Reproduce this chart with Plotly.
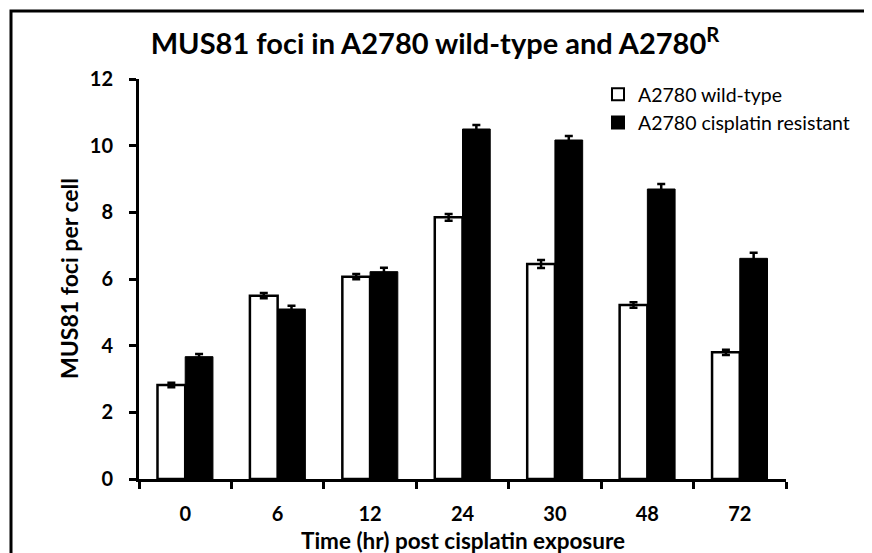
import plotly.graph_objects as go

times = ["0", "6", "12", "24", "30", "48", "72"]
wild_type = [2.82, 5.50, 6.07, 7.85, 6.45, 5.22, 3.80]
wild_type_err = [0.07, 0.08, 0.08, 0.10, 0.12, 0.08, 0.08]
resistant = [3.67, 5.10, 6.22, 10.50, 10.17, 8.70, 6.62]
resistant_err = [0.08, 0.10, 0.12, 0.12, 0.12, 0.15, 0.17]
y_ticks = [0, 2, 4, 6, 8, 10, 12]

FONT = "Lato"
# page body has an 8px margin, so the figure is 8px smaller than the window
W, H = 864, 545
L, R, T, B = 131, 86, 71, 74
pw, ph = W - L - R, H - T - B

def px_x(x):
    return (x - L) / pw

def px_y(y):
    return (H - B - y) / ph

fig = go.Figure()
fig.add_trace(go.Bar(
    x=times, y=wild_type, name="A2780 wild-type",
    marker=dict(color="white", line=dict(color="black", width=2.5)),
    error_y=dict(type="data", array=wild_type_err, color="black", thickness=2.5, width=4),
))
fig.add_trace(go.Bar(
    x=times, y=resistant, name="A2780 cisplatin resistant",
    marker=dict(color="black", line=dict(color="black", width=1)),
    error_y=dict(type="data", array=resistant_err, color="black", thickness=2.5, width=4),
))

fig.update_layout(
    width=W, height=H,
    margin=dict(l=L, r=R, t=T, b=B, autoexpand=False),
    paper_bgcolor="white", plot_bgcolor="white",
    barmode="group", bargap=0.4, bargroupgap=0,
    font=dict(family=FONT, color="black"),
    title=dict(
        text="<b>MUS81 foci in A2780 wild-type and A2780<sup>R</sup></b>",
        font=dict(family=FONT, size=29, color="black"),
        x=px_x(427), xref="paper", xanchor="center",
        y=1 - 36 / H, yref="container", yanchor="middle",
    ),
    legend=dict(
        x=px_x(590), y=px_y(67), xanchor="left", yanchor="top",
        bgcolor="rgba(0,0,0,0)", font=dict(family=FONT, size=19.5, color="black"),
        tracegroupgap=0, itemsizing="constant",
    ),
    xaxis=dict(
        type="category", showline=True, linecolor="black", linewidth=3,
        ticks="outside", tickson="boundaries", ticklen=7, tickwidth=2.5, tickcolor="black",
        tickvals=times, ticktext=[f"<b>{t}</b>" for t in times],
        tickfont=dict(family=FONT, size=20, color="black"),
        ticklabelstandoff=15,
        showgrid=False, zeroline=False, automargin=False,
    ),
    yaxis=dict(
        range=[0, 12], tickvals=y_ticks, ticktext=[f"<b>{v}</b>" for v in y_ticks],
        showline=True, linecolor="black", linewidth=3,
        ticks="outside", ticklen=7, tickwidth=2.5, tickcolor="black",
        tickfont=dict(family=FONT, size=20, color="black"),
        ticklabelstandoff=12,
        showgrid=False, zeroline=False, automargin=False,
    ),
)

fig.add_annotation(
    text="<b>Time (hr) post cisplatin exposure</b>",
    xref="paper", yref="paper", x=0.5, y=px_y(532),
    xanchor="center", yanchor="middle", showarrow=False,
    font=dict(family=FONT, size=22.5, color="black"),
)
fig.add_annotation(
    text="<b>MUS81 foci per cell</b>",
    xref="paper", yref="paper", x=px_x(61), y=0.5,
    xanchor="center", yanchor="middle", showarrow=False, textangle=-90,
    font=dict(family=FONT, size=23, color="black"),
)

fig.add_shape(
    type="rect", xref="paper", yref="paper",
    x0=px_x(3), x1=px_x(890), y0=px_y(570), y1=px_y(3),
    line=dict(color="black", width=3), fillcolor="rgba(0,0,0,0)", layer="below",
)

fig.write_html("out.html")
